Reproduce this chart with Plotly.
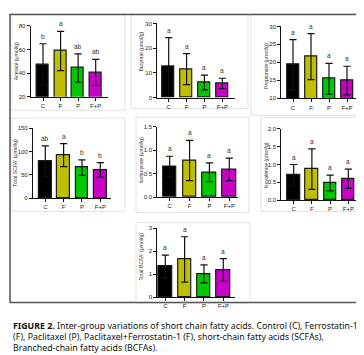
import plotly.graph_objects as go

W, H = 364, 355

groups = ["C", "F", "P", "F+P"]
colors = ["#000000", "#bfbf00", "#00c800", "#c800c8"]

acetate = [47.4, 58.7, 44.3, 40.7]
acetate_sd = [17.4, 16.5, 12.0, 11.0]
acetate_sig = ["b", "a", "ab", "ab"]

butyrate = [12.4, 11.5, 6.1, 5.7]
butyrate_sd = [11.9, 6.3, 3.0, 2.1]
butyrate_sig = ["a", "a", "a", "a"]

propionate = [19.3, 21.6, 15.4, 14.9]
propionate_sd = [7.0, 6.4, 4.3, 4.0]
propionate_sig = ["a", "a", "a", "a"]

total_scfa = [79.6, 92.3, 65.5, 60.6]
total_scfa_sd = [32.4, 24.6, 16.5, 15.5]
total_scfa_sig = ["ab", "a", "b", "b"]

isobutyrate = [0.65, 0.78, 0.53, 0.59]
isobutyrate_sd = [0.22, 0.43, 0.20, 0.24]
isobutyrate_sig = ["a", "a", "a", "a"]

isovalerate = [0.70, 0.87, 0.48, 0.60]
isovalerate_sd = [0.30, 0.57, 0.22, 0.27]
isovalerate_sig = ["a", "a", "a", "a"]

total_bcfa = [1.33, 1.64, 1.01, 1.19]
total_bcfa_sd = [0.50, 0.99, 0.39, 0.49]
total_bcfa_sig = ["a", "a", "a", "a"]

caption_lines = [
    "<b>FIGURE 2.</b> Inter-group variations of short chain fatty acids. Control (C), Ferrostatin-1",
    "(F), Paclitaxel (P), Paclitaxel+Ferrostatin-1 (F), short-chain fatty acids (SCFAs),",
    "Branched-chain fatty acids (BCFAs).",
]

panels = [
    dict(v=acetate, sd=acetate_sd, sig=acetate_sig, title="Acetate (μmol/g)",
         yr=[20, 80], dt=20, fmt="d",
         ax=22.7, xe=100, c0=35, c3=87.7, yt=15, yb=87.3, tx=7.7, ty=51.5),
    dict(v=butyrate, sd=butyrate_sd, sig=butyrate_sig, title="Butyrate (μmol/g)",
         yr=[0, 30], dt=10, fmt="d",
         ax=149.3, xe=226.7, c0=160.7, c3=214.3, yt=12.7, yb=88, tx=133.3, ty=41),
    dict(v=propionate, sd=propionate_sd, sig=propionate_sig, title="Propionate (μmol/g)",
         yr=[10, 30], dt=5, fmt="d",
         ax=273.3, xe=350, c0=285, c3=339, yt=15.7, yb=88.7, tx=257.3, ty=55.7),
    dict(v=total_scfa, sd=total_scfa_sd, sig=total_scfa_sig, title="Total SCFA' (μmol/g)",
         yr=[0, 150], dt=50, fmt="d",
         ax=25, xe=103, c0=37.3, c3=92.3, yt=119.3, yb=190.3, tx=7.3, ty=154),
    dict(v=isobutyrate, sd=isobutyrate_sd, sig=isobutyrate_sig, title="Isobutyrate (μmol/g)",
         yr=[0, 1.5], dt=0.5, fmt=".1f",
         ax=149.3, xe=230, c0=161.7, c3=221.3, yt=117.7, yb=189.3, tx=133.3, ty=151.7),
    dict(v=isovalerate, sd=isovalerate_sd, sig=isovalerate_sig, title="Isovalerate (μmol/g)",
         yr=[0, 2.0], dt=0.5, fmt=".1f",
         ax=273.3, xe=351.7, c0=285.7, c3=340.3, yt=120, yb=192.3, tx=258.3, ty=156.7),
    dict(v=total_bcfa, sd=total_bcfa_sd, sig=total_bcfa_sig, title="Total BCFA' (μmol/g)",
         yr=[0, 3], dt=1, fmt="d",
         ax=149.3, xe=226.7, c0=157.3, c3=215.3, yt=221, yb=291, tx=132.7, ty=250),
]

def px(x):
    return x / W

def py(y):
    return 1 - y / H

fig = go.Figure()
annotations = []
shapes = []
FONT = "Liberation Sans, Arial, sans-serif"

for i, p in enumerate(panels, start=1):
    xa = "x" if i == 1 else f"x{i}"
    ya = "y" if i == 1 else f"y{i}"
    s = (p["c3"] - p["c0"]) / 3
    xr = [-(p["c0"] - p["ax"]) / s, 3 + (p["xe"] - p["c3"]) / s]
    fig.add_trace(go.Bar(
        x=[0, 1, 2, 3], y=p["v"], xaxis=xa, yaxis=ya,
        width=0.68,
        marker=dict(color=colors, line=dict(color="#1a1a1a", width=1.2)),
        error_y=dict(type="data", array=p["sd"], visible=True, color="#111111",
                     thickness=1.2, width=3.6),
        showlegend=False, hoverinfo="skip",
    ))
    xkey = "xaxis" if i == 1 else f"xaxis{i}"
    ykey = "yaxis" if i == 1 else f"yaxis{i}"
    fig.layout[xkey] = dict(
        domain=[px(p["ax"]), px(p["xe"])], anchor=ya, range=xr,
        tickvals=[0, 1, 2, 3], ticktext=groups, showline=True, linecolor="#111",
        linewidth=1.2, ticks="outside", ticklen=3, tickwidth=1, tickcolor="#111",
        showgrid=False, zeroline=False, fixedrange=True,
        tickfont=dict(size=6, color="#222", family=FONT),
    )
    fig.layout[ykey] = dict(
        domain=[py(p["yb"]), py(p["yt"])], anchor=xa, range=p["yr"],
        dtick=p["dt"], tick0=p["yr"][0], tickformat=p["fmt"],
        showline=True, linecolor="#111", linewidth=1.2, ticks="outside",
        ticklen=3, tickwidth=1, tickcolor="#111", showgrid=False, zeroline=False,
        fixedrange=True, tickfont=dict(size=6, color="#222", family=FONT),
    )
    annotations.append(dict(
        x=px(p["tx"]), y=py(p["ty"]), xref="paper", yref="paper",
        text=p["title"], textangle=-90, showarrow=False,
        font=dict(size=5.2, color="#333", family=FONT),
        xanchor="center", yanchor="middle",
    ))
    for k in range(4):
        annotations.append(dict(
            x=k, y=p["v"][k] + p["sd"][k], xref=xa, yref=ya, text=p["sig"][k],
            showarrow=False, yanchor="bottom", yshift=2,
            font=dict(size=6.5, color="#333", family=FONT),
        ))

boxes = [
    (3, 3, 117, 101), (123, 3, 240, 99), (243, 3, 361, 106),
    (3, 109, 117, 204), (128, 108, 241, 205), (253, 108, 361, 204),
    (128, 215, 242, 297),
]
for (x0, y0, x1, y1) in boxes:
    shapes.append(dict(type="rect", xref="paper", yref="paper",
                       x0=px(x0), x1=px(x1), y0=py(y1), y1=py(y0),
                       line=dict(color="#e2e2e2", width=1), layer="below"))

shapes.append(dict(type="rect", xref="paper", yref="paper",
                   x0=px(2), x1=px(361.5), y0=py(296.5), y1=py(3.5),
                   line=dict(color="#555555", width=1.5)))

cap_y = [320.5, 332, 343]
for line, yy in zip(caption_lines, cap_y):
    annotations.append(dict(
        x=px(3), y=py(yy), xref="paper", yref="paper", text=line,
        showarrow=False, xanchor="left", yanchor="middle",
        font=dict(size=8.8, color="#111111", family="Noto Sans, sans-serif"),
    ))

fig.update_layout(
    width=W, height=H, margin=dict(l=0, r=0, t=0, b=0),
    paper_bgcolor="white", plot_bgcolor="white",
    annotations=annotations, shapes=shapes, bargap=0,
)

fig.write_html("out.html", config={"displayModeBar": False})
